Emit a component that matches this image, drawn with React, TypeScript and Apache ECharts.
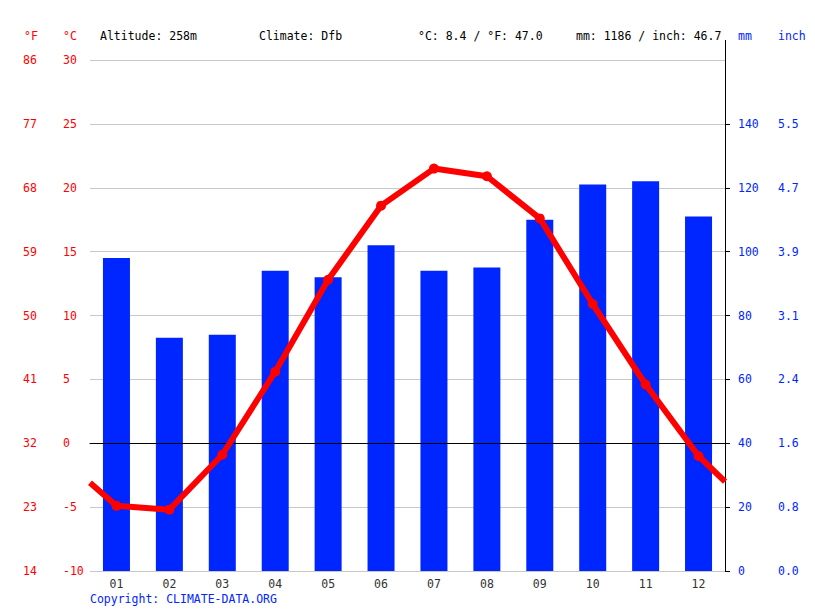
import { useEffect, useRef } from 'react';
import * as echarts from 'echarts';

const MONTHS = ['01', '02', '03', '04', '05', '06', '07', '08', '09', '10', '11', '12'];
const PRECIP_MM = [98, 73, 74, 94, 92, 102, 94, 95, 110, 121, 122, 111];
const TEMP_C = [-4.9, -5.2, -0.9, 5.6, 12.8, 18.6, 21.5, 20.9, 17.6, 10.9, 4.6, -1.0];
// line runs on to the plot edges in the picture
const TEMP_EDGE_LEFT = -3.1;
const TEMP_EDGE_RIGHT = -3.0;
const MM_TICKS = [0, 20, 40, 60, 80, 100, 120, 140];
const INCH_LABELS = ['0.0', '0.8', '1.6', '2.4', '3.1', '3.9', '4.7', '5.5'];

const FONT = '"DejaVu Sans Mono", monospace';
const RED = '#ff0000';
const BLUE = '#0026ff';

export default function App() {
  const ref = useRef<HTMLDivElement>(null);

  useEffect(() => {
    document.body.style.margin = '0';
    const dom = ref.current!;
    const chart = echarts.init(dom, undefined, { renderer: 'svg' });

    const lineData: any[] = [
      { value: [0, TEMP_EDGE_LEFT], symbolSize: 0 },
      ...TEMP_C.map((t, i) => [i + 0.5, t]),
      { value: [12, TEMP_EDGE_RIGHT], symbolSize: 0 },
    ];

    const headText = (text: string, x: number, fill = '#000') => ({
      type: 'text',
      x,
      y: 36,
      silent: true,
      style: { text, fill, fontSize: 11.5, fontFamily: FONT, verticalAlign: 'middle' },
    });

    chart.setOption({
      animation: false,
      textStyle: { fontFamily: FONT },
      grid: { left: 90, right: 90, top: 60, bottom: 40 },
      xAxis: [
        {
          type: 'category',
          data: MONTHS,
          boundaryGap: true,
          axisLine: { lineStyle: { color: '#000' } },
          axisTick: { length: 5, lineStyle: { color: '#000' } },
          axisLabel: { color: '#333', fontSize: 11.5, margin: 7, fontFamily: FONT },
        },
        { type: 'value', min: 0, max: 12, show: false },
      ],
      yAxis: [
        {
          type: 'value',
          position: 'left',
          min: -10,
          max: 30,
          interval: 5,
          axisLine: { show: false },
          axisTick: { show: false },
          splitLine: { lineStyle: { color: '#c8c8c8' } },
          axisLabel: { color: RED, fontSize: 11.5, align: 'left', margin: 27, fontFamily: FONT },
        },
        {
          type: 'value',
          position: 'left',
          min: 14,
          max: 86,
          interval: 9,
          axisLine: { show: false },
          axisTick: { show: false },
          splitLine: { show: false },
          axisLabel: { color: RED, fontSize: 11.5, align: 'left', margin: 67, fontFamily: FONT },
        },
        {
          type: 'value',
          position: 'right',
          min: 0,
          max: 160,
          interval: 20,
          axisLine: { show: true, lineStyle: { color: '#000' } },
          axisTick: { show: true, length: 5, lineStyle: { color: '#000' }, customValues: MM_TICKS },
          splitLine: { show: false },
          axisLabel: {
            color: BLUE,
            fontSize: 11.5,
            align: 'left',
            margin: 13,
            fontFamily: FONT,
            customValues: MM_TICKS,
          },
        },
        {
          type: 'value',
          position: 'right',
          min: 0,
          max: 160,
          interval: 20,
          axisLine: { show: false },
          axisTick: { show: false },
          splitLine: { show: false },
          axisLabel: {
            color: BLUE,
            fontSize: 11.5,
            align: 'left',
            margin: 53,
            fontFamily: FONT,
            customValues: MM_TICKS,
            formatter: (v: number) => INCH_LABELS[MM_TICKS.indexOf(v)] ?? '',
          },
        },
      ],
      series: [
        {
          type: 'bar',
          name: 'mm',
          xAxisIndex: 0,
          yAxisIndex: 2,
          data: PRECIP_MM,
          barWidth: 27,
          itemStyle: { color: BLUE },
          silent: true,
        },
        {
          type: 'line',
          name: '°C',
          xAxisIndex: 1,
          yAxisIndex: 0,
          data: lineData,
          symbol: 'circle',
          symbolSize: 10,
          lineStyle: { color: RED, width: 6 },
          itemStyle: { color: RED },
          silent: true,
          z: 5,
          markLine: {
            silent: true,
            symbol: 'none',
            label: { show: false },
            lineStyle: { color: '#000', width: 1, type: 'solid' },
            data: [{ yAxis: 0 }],
            z: 3,
          },
        },
      ],
      graphic: [
        headText('°F', 24, RED),
        headText('°C', 63, RED),
        headText('Altitude: 258m', 100),
        headText('Climate: Dfb', 259),
        headText('°C: 8.4 / °F: 47.0', 418),
        headText('mm: 1186 / inch: 46.7', 576),
        headText('mm', 738, BLUE),
        headText('inch', 778, BLUE),
        {
          type: 'line',
          silent: true,
          shape: { x1: 725.5, y1: 40, x2: 725.5, y2: 60 },
          style: { stroke: '#000', lineWidth: 1 },
        },
        {
          type: 'text',
          x: 90,
          y: 599,
          silent: true,
          style: {
            text: 'Copyright: CLIMATE-DATA.ORG',
            fill: BLUE,
            fontSize: 11.5,
            fontFamily: FONT,
            verticalAlign: 'middle',
          },
        },
      ],
    } as echarts.EChartsOption);

    return () => {
      chart.dispose();
    };
  }, []);

  return <div ref={ref} style={{ width: 815, height: 611 }} />;
}
